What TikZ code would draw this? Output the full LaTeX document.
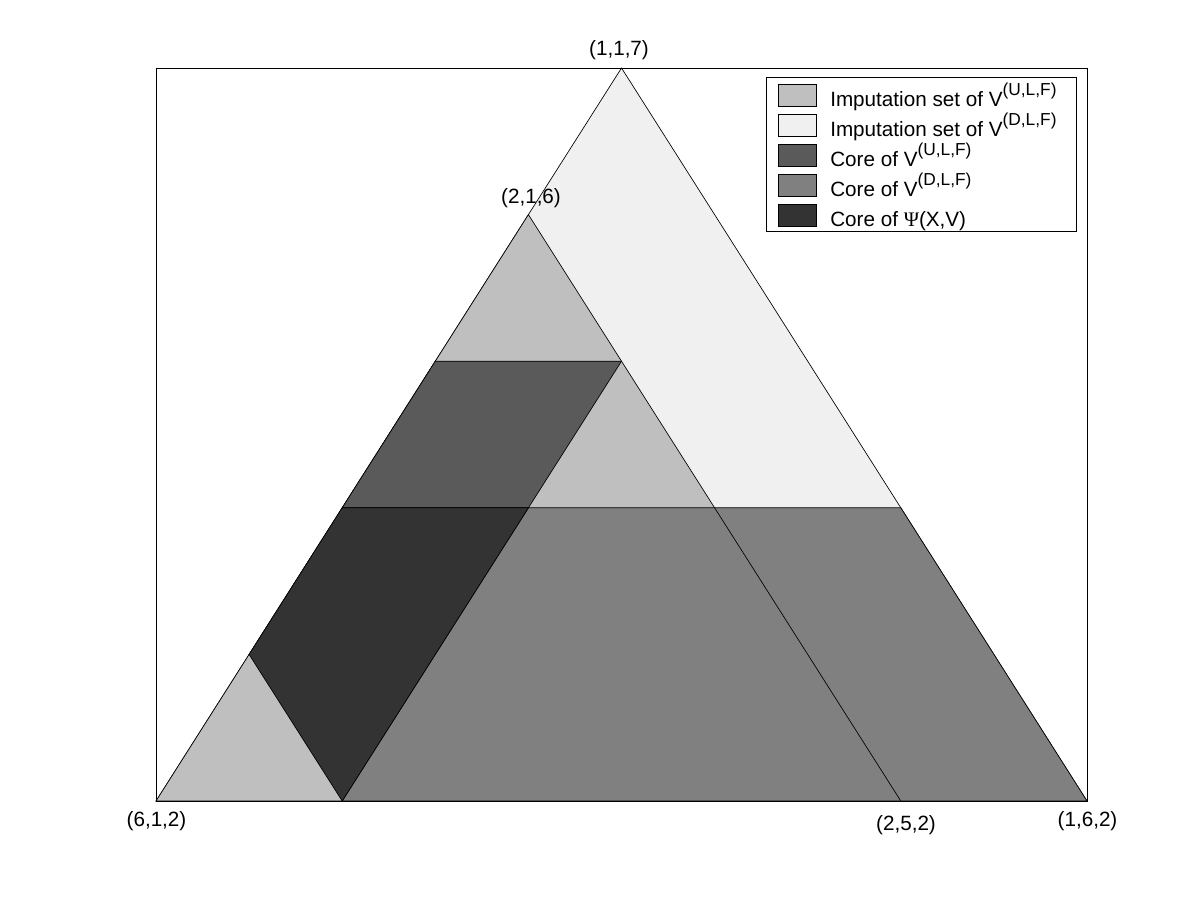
\documentclass[tikz,border=0pt]{standalone}
\usepackage{fontspec}
\setmainfont{Liberation Sans}
\newfontfamily\psifont{Liberation Serif}
\begin{document}
\begin{tikzpicture}[x=0.75pt,y=-0.75pt,
  edge/.style={draw=black,line width=0.5pt,line join=miter},
  lab/.style={inner sep=0pt,anchor=base,font=\fontsize{15.5pt}{18pt}\selectfont},
  legtext/.style={inner sep=0pt,anchor=base west,font=\fontsize{15.5pt}{18pt}\selectfont},
  swatch/.style={draw=black,line width=0.8pt}]
\useasboundingbox (0,0) rectangle (1201,900);
\fill[white] (0,0) rectangle (1201,900);
% vertices
\coordinate (A) at (156,801);      % (6,1,2)
\coordinate (B) at (1087,801);     % (1,6,2)
\coordinate (C) at (621.5,68);     % (1,1,7)
\coordinate (P216) at (528.4,214.6);
\coordinate (P252) at (900.8,801);
\coordinate (P315) at (435.3,361.2);
\coordinate (P225) at (621.5,361.2);
\coordinate (P414) at (342.2,507.8);
\coordinate (P324) at (528.4,507.8);
\coordinate (P234) at (714.6,507.8);
\coordinate (P144) at (900.8,507.8);
\coordinate (P513) at (249.1,654.4);
\coordinate (P522) at (342.2,801);
% axes box
\draw[line width=0.6pt] (156,68) rectangle (1087,801);
% imputation set D
\path[edge,fill={rgb,255:red,240;green,240;blue,240}] (A) -- (B) -- (C) -- cycle;
% imputation set U
\path[edge,fill={rgb,255:red,191;green,191;blue,191}] (A) -- (P216) -- (P252) -- cycle;
% core D
\path[edge,fill={rgb,255:red,128;green,128;blue,128}] (P522) -- (B) -- (P144) -- (P324) -- cycle;
% core U
\path[edge,fill={rgb,255:red,90;green,90;blue,90}] (P315) -- (P225) -- (P324) -- (P414) -- cycle;
% core Psi
\path[edge,fill={rgb,255:red,51;green,51;blue,51}] (P414) -- (P324) -- (P522) -- (P513) -- cycle;
\draw[line width=0.5pt] (P234) -- (P252);
\draw[line width=0.6pt] (156,801) -- (1087,801);
% vertex labels
\node[lab] (l117) at (619,55) {(1,1,7)};
\node[lab] (l216) at (531,203) {(2,1,6)};
\node[lab] (l612) at (156.5,826) {(6,1,2)};
\node[lab] (l252) at (906,830) {(2,5,2)};
\node[lab] (l162) at (1087.5,826) {(1,6,2)};
% legend
\draw[line width=0.6pt,fill=white] (766.3,77.5) rectangle (1076,231.7);
\path[swatch,fill={rgb,255:red,191;green,191;blue,191}] (778.3,84.3) rectangle (816.7,106.3);
\path[swatch,fill={rgb,255:red,240;green,240;blue,240}] (778.3,114.3) rectangle (816.7,136.3);
\path[swatch,fill={rgb,255:red,90;green,90;blue,90}] (778.3,144.3) rectangle (816.7,166.3);
\path[swatch,fill={rgb,255:red,128;green,128;blue,128}] (778.3,174.3) rectangle (816.7,196.3);
\path[swatch,fill={rgb,255:red,51;green,51;blue,51}] (778.3,204.3) rectangle (816.7,226.3);
\node[legtext] (t1) at (830,106.5) {Imputation set of V\raisebox{0.55em}{\fontsize{13pt}{15pt}\selectfont (U,L,F)}};
\node[legtext] (t2) at (830,136.5) {Imputation set of V\raisebox{0.55em}{\fontsize{13pt}{15pt}\selectfont (D,L,F)}};
\node[legtext] (t3) at (830,166.5) {Core of V\raisebox{0.55em}{\fontsize{13pt}{15pt}\selectfont (U,L,F)}};
\node[legtext] (t4) at (830,196.5) {Core of V\raisebox{0.55em}{\fontsize{13pt}{15pt}\selectfont (D,L,F)}};
\node[legtext] (t5) at (830,226.5) {Core of {\psifont Ψ}(X,V)};
\end{tikzpicture}
\end{document}
